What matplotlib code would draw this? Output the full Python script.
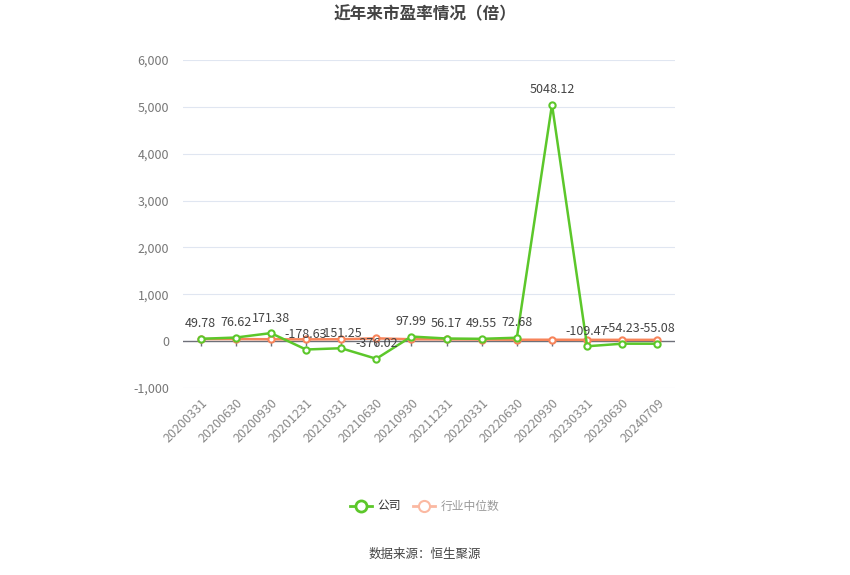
import matplotlib.pyplot as plt
import numpy as np

plt.rcParams['font.family'] = ['Noto Sans CJK SC', 'DejaVu Sans']

# data
dates = ['20200331', '20200630', '20200930', '20201231', '20210331', '20210630', '20210930',
         '20211231', '20220331', '20220630', '20220930', '20230331', '20230630', '20240709']
company = [49.78, 76.62, 171.38, -178.63, -151.25, -376.02, 97.99,
           56.17, 49.55, 72.68, 5048.12, -109.47, -54.23, -55.08]
industry = [45, 45, 40, 38, 40, 60, 40, 38, 35, 30, 30, 28, 28, 28]
yticks = [-1000, 0, 1000, 2000, 3000, 4000, 5000, 6000]

green = '#5cc72a'
orange = '#f7845a'

fig = plt.figure(figsize=(8.5, 5.75), dpi=100)
ax = fig.add_axes([183/850, 1-388/575, (675-183)/850, (388-60)/575])

x = np.arange(len(dates))
ax.set_xlim(-0.5, len(dates)-0.5)
ax.set_ylim(-1000, 6000)

# grid
for v in yticks:
    if v != 0:
        ax.axhline(v, color='#e0e6f1', lw=0.8, zorder=0)
ax.axhline(0, color='#6e7079', lw=1, zorder=1)
trans = ax.get_xaxis_transform()
z = 1000/7000
ax.vlines(x, z-0.016, z, color='#6e7079', lw=1, transform=trans, zorder=1)

ax.plot(x, industry, color=orange, lw=1.8, marker='o', ms=4.5, mfc='white', mec=orange, mew=1.5, zorder=3)
ax.plot(x, company, color=green, lw=1.8, marker='o', ms=4.5, mfc='white', mec=green, mew=1.5, zorder=4)

for xi, v in zip(x, company):
    ax.annotate(f'{v:.2f}', (xi, v), xytext=(0, 6), textcoords='offset points',
                ha='center', va='bottom', fontsize=9, color='#444444', zorder=5)

for s in ax.spines.values():
    s.set_visible(False)
ax.set_yticks(yticks)
ax.set_yticklabels([f'{v:,}' for v in yticks], fontsize=9, color='#777777')
ax.tick_params(axis='y', length=0, pad=10)
ax.set_xticks(x)
ax.set_xticklabels(dates, rotation=45, ha='right', va='top', rotation_mode='anchor',
                   fontsize=9, color='#888888')
ax.tick_params(axis='x', length=0, pad=6)

fig.text(0.5, 1-14/575, '近年来市盈率情况（倍）', ha='center', va='center', fontsize=12,
         fontweight='bold', color='#444444')

# legend
ly = 1-506/575
fig.add_artist(plt.Line2D([350/850, 372/850], [ly, ly], color=green, lw=2))
fig.add_artist(plt.Line2D([361/850], [ly], color=green, marker='o', ms=8, mfc='white', mec=green, mew=2))
fig.text(377/850, ly, '公司', ha='left', va='center', fontsize=8.5, color='#333333')
lo = '#fbb9a2'
fig.add_artist(plt.Line2D([413/850, 435/850], [ly, ly], color=lo, lw=2))
fig.add_artist(plt.Line2D([424/850], [ly], color=lo, marker='o', ms=8, mfc='white', mec=lo, mew=1.5))
fig.text(441/850, ly, '行业中位数', ha='left', va='center', fontsize=8.5, color='#999999')

fig.text(0.5, 1-554/575, '数据来源：恒生聚源', ha='center', va='center', fontsize=9, color='#444444')

fig.savefig('out.png', dpi=100)
